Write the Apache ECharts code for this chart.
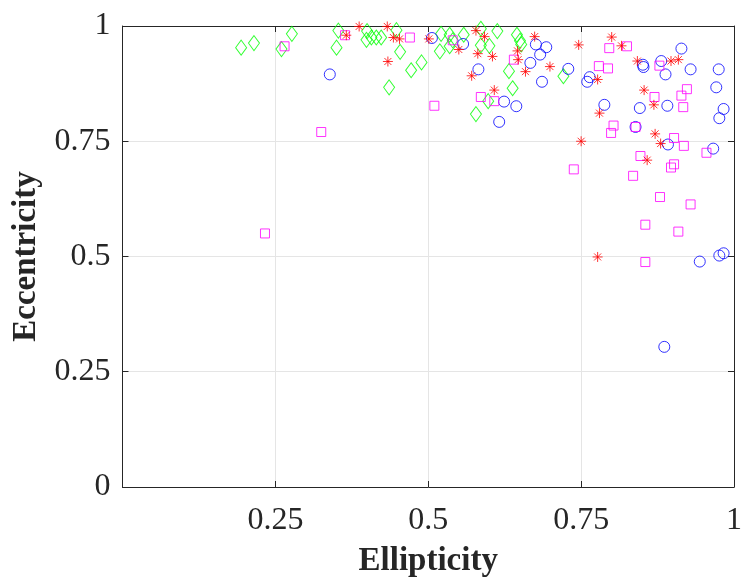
<!DOCTYPE html>
<html>
<head>
<meta charset="utf-8">
<script src="https://cdn.jsdelivr.net/npm/echarts@6/dist/echarts.min.js"></script>
<style>html,body{margin:0;padding:0;background:#fff;}#chart{width:745px;height:583px;}</style>
</head>
<body>
<div id="chart"></div>
<script>
const xTickValues = [0, 0.25, 0.5, 0.75, 1];
const yTickValues = [0, 0.25, 0.5, 0.75, 1];
const xTitle = 'Ellipticity';
const yTitle = 'Eccentricity';

const greenDiamonds = [
  [0.194,0.953],[0.215,0.963],[0.260,0.950],[0.277,0.983],[0.353,0.990],[0.350,0.953],
  [0.400,0.989],[0.399,0.970],[0.407,0.975],[0.415,0.975],[0.423,0.975],[0.448,0.991],
  [0.454,0.944],[0.436,0.867],[0.472,0.904],[0.489,0.921],[0.521,0.983],[0.519,0.945],
  [0.535,0.981],[0.535,0.956],[0.540,0.969],[0.558,0.981],[0.586,0.994],[0.613,0.989],
  [0.600,0.957],[0.586,0.958],[0.645,0.981],[0.650,0.968],[0.652,0.960],[0.632,0.902],
  [0.638,0.865],[0.598,0.837],[0.578,0.809],[0.721,0.891]
];
const blueCircles = [
  [0.339,0.895],[0.506,0.974],[0.557,0.961],[0.582,0.906],[0.624,0.836],[0.644,0.826],
  [0.616,0.792],[0.676,0.960],[0.693,0.954],[0.683,0.938],[0.667,0.920],[0.686,0.879],
  [0.729,0.907],[0.764,0.889],[0.760,0.879],[0.788,0.829],[0.851,0.916],[0.852,0.911],
  [0.881,0.924],[0.888,0.895],[0.914,0.951],[0.929,0.906],[0.975,0.906],[0.971,0.867],
  [0.983,0.820],[0.976,0.800],[0.846,0.822],[0.891,0.827],[0.839,0.781],[0.892,0.743],
  [0.966,0.734],[0.944,0.489],[0.976,0.502],[0.983,0.507],[0.886,0.304]
];
const magentaSquares = [
  [0.233,0.550],[0.265,0.956],[0.325,0.770],[0.364,0.980],[0.470,0.975],[0.510,0.827],
  [0.540,0.969],[0.586,0.846],[0.608,0.837],[0.640,0.927],[0.738,0.689],[0.779,0.913],
  [0.794,0.908],[0.796,0.952],[0.825,0.956],[0.878,0.914],[0.803,0.784],[0.799,0.768],
  [0.839,0.781],[0.870,0.846],[0.923,0.863],[0.914,0.849],[0.917,0.824],[0.902,0.757],
  [0.918,0.740],[0.955,0.725],[0.847,0.718],[0.902,0.700],[0.897,0.693],[0.835,0.675],
  [0.879,0.629],[0.929,0.613],[0.855,0.569],[0.909,0.554],[0.855,0.488]
];
const redStars = [
  [0.366,0.980],[0.387,0.999],[0.433,0.999],[0.443,0.975],[0.453,0.972],[0.434,0.923],
  [0.501,0.972],[0.550,0.949],[0.578,0.990],[0.592,0.977],[0.581,0.940],[0.605,0.934],
  [0.571,0.892],[0.608,0.861],[0.646,0.946],[0.647,0.927],[0.659,0.901],[0.674,0.977],
  [0.699,0.912],[0.746,0.959],[0.777,0.884],[0.780,0.811],[0.750,0.750],[0.777,0.499],
  [0.800,0.976],[0.816,0.957],[0.842,0.924],[0.897,0.924],[0.909,0.927],[0.853,0.861],
  [0.869,0.829],[0.871,0.766],[0.880,0.745],[0.858,0.709]
];

const FONT = 'Liberation Serif';
const AXC = '#262626';
const chart = echarts.init(document.getElementById('chart'), null, {renderer: 'canvas'});

function fmt(list, hideZero) {
  return function (v) {
    if (hideZero && v === 0) return '';
    return list.indexOf(v) >= 0 ? String(v) : '';
  };
}

const open = 'rgba(0,0,0,0)';
chart.setOption({
  animation: false,
  backgroundColor: '#fff',
  grid: {left: 122.5, right: 7, top: 26, bottom: 90.3, containLabel: false},
  xAxis: [{
    type: 'value', min: 0, max: 1, interval: 0.25,
    name: xTitle, nameLocation: 'middle', nameGap: 58,
    nameTextStyle: {fontFamily: FONT, fontSize: 33, fontWeight: 'bold', color: '#262626'},
    axisLine: {show: true, lineStyle: {color: AXC, width: 1}},
    axisTick: {show: true, inside: true, length: 6, lineStyle: {color: AXC}},
    axisLabel: {fontFamily: FONT, fontSize: 32, color: '#262626', margin: 18, formatter: fmt(xTickValues, true)},
    splitLine: {show: true, lineStyle: {color: '#e5e5e5', width: 1}}
  }, {
    type: 'value', min: 0, max: 1, interval: 0.25, position: 'top',
    axisLine: {show: true, onZero: false, lineStyle: {color: AXC, width: 1}},
    axisTick: {show: true, inside: true, length: 6, lineStyle: {color: AXC}},
    axisLabel: {show: false}, splitLine: {show: false}
  }],
  yAxis: [{
    type: 'value', min: 0, max: 1, interval: 0.25,
    name: yTitle, nameLocation: 'middle', nameGap: 80, nameRotate: 90,
    nameTextStyle: {fontFamily: FONT, fontSize: 33, fontWeight: 'bold', color: '#262626'},
    axisLine: {show: true, lineStyle: {color: AXC, width: 1}},
    axisTick: {show: true, inside: true, length: 6, lineStyle: {color: AXC}},
    axisLabel: {fontFamily: FONT, fontSize: 32, color: '#262626', margin: 12, formatter: fmt(yTickValues, false)},
    splitLine: {show: true, lineStyle: {color: '#e5e5e5', width: 1}}
  }, {
    type: 'value', min: 0, max: 1, interval: 0.25, position: 'right',
    axisLine: {show: true, onZero: false, lineStyle: {color: AXC, width: 1}},
    axisTick: {show: true, inside: true, length: 6, lineStyle: {color: AXC}},
    axisLabel: {show: false}, splitLine: {show: false}
  }],
  series: [{
    name: 'diamond', type: 'scatter', data: greenDiamonds,
    symbol: 'path://M0,-13.5L10,0L0,13.5L-10,0Z', symbolSize: [11, 15],
    itemStyle: {color: open, borderColor: '#00ff00', borderWidth: 1}
  }, {
    name: 'circle', type: 'scatter', data: blueCircles,
    symbol: 'circle', symbolSize: 11,
    itemStyle: {color: open, borderColor: '#0000ff', borderWidth: 1}
  }, {
    name: 'square', type: 'scatter', data: magentaSquares,
    symbol: 'rect', symbolSize: 9,
    itemStyle: {color: open, borderColor: '#ff00ff', borderWidth: 1}
  }, {
    name: 'star', type: 'scatter', data: redStars,
    symbol: 'path://M0,-10L0,10M-10,0L10,0M-7,-7L7,7M-7,7L7,-7', symbolSize: 10,
    itemStyle: {color: open, borderColor: '#ff0000', borderWidth: 1}
  }]
});
</script>
</body>
</html>
